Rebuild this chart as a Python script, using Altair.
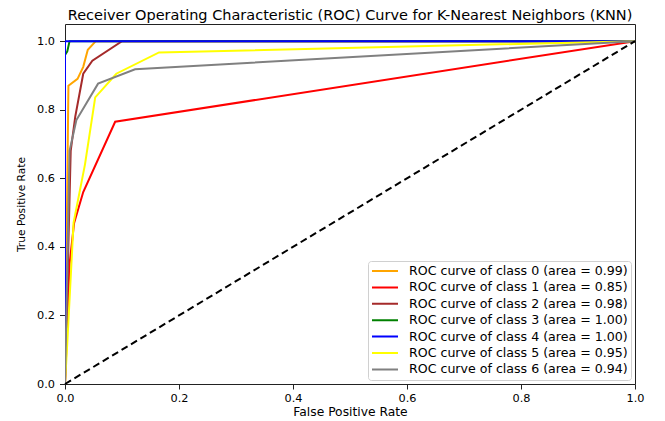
import altair as alt
import pandas as pd

labels = [
    "ROC curve of class 0 (area = 0.99)",
    "ROC curve of class 1 (area = 0.85)",
    "ROC curve of class 2 (area = 0.98)",
    "ROC curve of class 3 (area = 1.00)",
    "ROC curve of class 4 (area = 1.00)",
    "ROC curve of class 5 (area = 0.95)",
    "ROC curve of class 6 (area = 0.94)",
]
colors = ["#FFA500", "#FF0000", "#A52A2A", "#008000", "#0000FF", "#FFFF00", "#808080"]

fpr0 = [0.0, 0.006, 0.022, 0.032, 0.040, 0.054, 1.0]
tpr0 = [0.0, 0.870, 0.890, 0.925, 0.975, 1.000, 1.0]
fpr1 = [0.0, 0.008, 0.016, 0.032, 0.088, 1.0]
tpr1 = [0.0, 0.350, 0.470, 0.560, 0.765, 1.0]
fpr2 = [0.0, 0.010, 0.018, 0.032, 0.048, 0.100, 1.0]
tpr2 = [0.0, 0.680, 0.780, 0.905, 0.943, 1.000, 1.0]
fpr3 = [0.0, 0.0, 0.004, 0.008, 1.0]
tpr3 = [0.0, 0.960, 0.970, 1.000, 1.0]
fpr4 = [0.0, 0.0, 1.0]
tpr4 = [0.0, 1.0, 1.0]
fpr5 = [0.0, 0.004, 0.015, 0.035, 0.053, 0.090, 0.165, 1.0]
tpr5 = [0.0, 0.120, 0.470, 0.640, 0.836, 0.905, 0.967, 1.0]
fpr6 = [0.0, 0.008, 0.020, 0.058, 0.123, 1.0]
tpr6 = [0.0, 0.680, 0.770, 0.876, 0.918, 1.0]

fprs = [fpr0, fpr1, fpr2, fpr3, fpr4, fpr5, fpr6]
tprs = [tpr0, tpr1, tpr2, tpr3, tpr4, tpr5, tpr6]

rows = []
for lab, fx, ty in zip(labels, fprs, tprs):
    for i, (a, b) in enumerate(zip(fx, ty)):
        rows.append({"fpr": a, "tpr": b, "label": lab, "idx": i})
df = pd.DataFrame(rows)

diag = pd.DataFrame({"fpr": [0.0, 1.0], "tpr": [0.0, 1.0]})

ticks = [0, 0.2, 0.4, 0.6, 0.8, 1.0]
xscale = alt.Scale(domain=[0, 1], nice=False, zero=False)
yscale = alt.Scale(domain=[0, 1.05], nice=False, zero=False)

xaxis = alt.Axis(title="False Positive Rate", values=ticks, format=".1f", labelFlush=False,
                 grid=False, domain=False, tickSize=5, tickColor="#222", labelPadding=3,
                 labelFontSize=11.3, titleFontSize=12.3, titleFontWeight="normal",
                 labelColor="#000", titleColor="#000", labelFont="DejaVu Sans", titleFont="DejaVu Sans",
                 titlePadding=2)
yaxis = alt.Axis(title="True Positive Rate", values=ticks, format=".1f", labelFlush=False,
                 grid=False, domain=False, tickSize=5.5, tickColor="#222", labelPadding=5,
                 labelFontSize=11.3, titleFontSize=10.7, titleFontWeight="normal",
                 labelColor="#000", titleColor="#000", labelFont="DejaVu Sans", titleFont="DejaVu Sans",
                 titlePadding=10)

lines = alt.Chart(df).mark_line(strokeWidth=2, clip=True).encode(
    x=alt.X("fpr:Q", scale=xscale, axis=xaxis),
    y=alt.Y("tpr:Q", scale=yscale, axis=yaxis),
    color=alt.Color("label:N", scale=alt.Scale(domain=labels, range=colors),
                    legend=alt.Legend(title=None, orient="bottom-right", offset=4,
                                      symbolType="stroke", symbolStrokeWidth=2, symbolSize=676,
                                      clipHeight=14, rowPadding=2.4, labelFontSize=12.6,
                                      labelLimit=400,
                                      labelFont="DejaVu Sans", labelColor="#000", labelOffset=10,
                                      fillColor="white", strokeColor="#d0d0d0", cornerRadius=3,
                                      padding=3)),
    order="idx:Q",
)

diag_line = alt.Chart(diag).mark_line(color="black", strokeWidth=2, strokeDash=[7, 4]).encode(
    x=alt.X("fpr:Q", scale=xscale),
    y=alt.Y("tpr:Q", scale=yscale),
)

chart = alt.layer(lines, diag_line).properties(
    width=570, height=360,
    title=alt.Title("Receiver Operating Characteristic (ROC) Curve for K-Nearest Neighbors (KNN)",
                    fontSize=14.5, font="DejaVu Sans", fontWeight="normal", color="#000",
                    offset=1),
    autosize="none",
    padding={"left": 57, "top": 16, "right": 20, "bottom": 35},
).configure_view(stroke="#222", strokeWidth=1)

chart.save("out.html", embed_options={"renderer": "svg", "actions": False})
